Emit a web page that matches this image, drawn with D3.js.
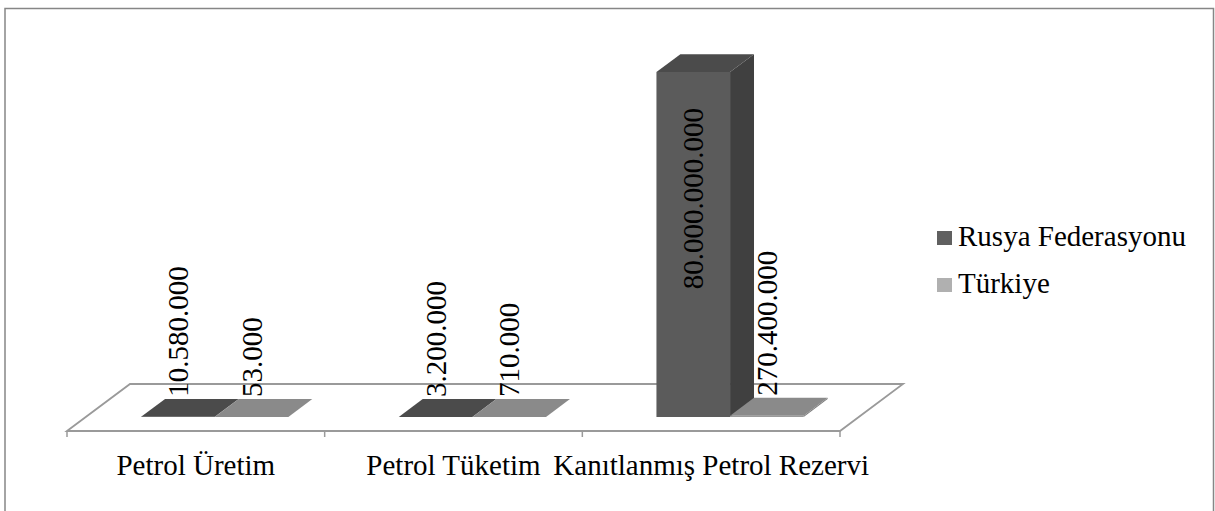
<!DOCTYPE html>
<html>
<head>
<meta charset="utf-8">
<script src="https://cdn.jsdelivr.net/npm/d3@7"></script>
<style>
html,body{margin:0;padding:0;background:#fff;}
svg{display:block;}
text{font-family:"Liberation Serif","Times New Roman",serif;fill:#000;}
</style>
</head>
<body>
<svg id="chart" width="1215" height="511"></svg>
<script>
const categories = ["Petrol Üretim", "Petrol Tüketim", "Kanıtlanmış Petrol Rezervi"];
const seriesNames = ["Rusya Federasyonu", "Türkiye"];
const rusyaValues = [10580000, 3200000, 80000000000];
const turkiyeValues = [53000, 710000, 270400000];
const valueLabelsRusya = ["10.580.000", "3.200.000", "80.000.000.000"];
const valueLabelsTurkiye = ["53.000", "710.000", "270.400.000"];

const series = [
  {name: seriesNames[0], values: rusyaValues, labels: valueLabelsRusya,
   front: "#5b5b5b", top: "#4b4b4b", side: "#404040", legend: "#606060"},
  {name: seriesNames[1], values: turkiyeValues, labels: valueLabelsTurkiye,
   front: "#9a9a9a", top: "#8a8a8a", side: "#7a7a7a", legend: "#b0b0b0"}
];

const svg = d3.select("#chart");
const FONT = 29;

// outer border
svg.append("path")
  .attr("d", "M5,520 L5,8.5 L1213.5,8.5 L1213.5,520")
  .attr("fill", "none").attr("stroke", "#868686").attr("stroke-width", 1.5);

// geometry
const axisY = 431;               // front edge of floor
const depth = [63, -47];         // floor depth vector
const t1 = 0.30, t2 = 0.68;      // bar front/back planes as fraction of depth
const x = d3.scaleBand().domain(categories).range([67, 840]).padding(0);
const catW = x.bandwidth();
const barW = catW / 3.5;
const sub = d3.scaleBand().domain(seriesNames).range([0.75 * barW, 2.75 * barW]).padding(0);

const baseFront = axisY + depth[1] * t1;     // y of bar base at front plane
const y = d3.scaleLinear().domain([0, 90000000000]).range([0, 388]);

// floor
const fx0 = 67, fx1 = 840;
svg.append("path")
  .attr("d", `M${fx0},${axisY} L${fx0 + depth[0]},${axisY + depth[1]} L${fx1 + depth[0]},${axisY + depth[1]} L${fx1},${axisY} Z`)
  .attr("fill", "#fff").attr("stroke", "#9a9a9a").attr("stroke-width", 1.8);

// ticks
const tickXs = categories.map(c => x(c)).concat([x.range()[1]]);
svg.selectAll("line.tick").data(tickXs).enter().append("line")
  .attr("x1", d => d).attr("x2", d => d)
  .attr("y1", axisY).attr("y2", axisY + 6)
  .attr("stroke", "#9a9a9a").attr("stroke-width", 1.5);

// bars
const fdx = depth[0] * t1, fdy = depth[1] * t1;
const bdx = depth[0] * (t2 - t1), bdy = depth[1] * (t2 - t1);
series.forEach(s => {
  categories.forEach((c, i) => {
    const x0 = x(c) + sub(s.name) + fdx;
    const x1 = x0 + sub.bandwidth();
    const yb = baseFront;
    const yt = baseFront - y(s.values[i]);
    const g = svg.append("g");
    // side face
    g.append("path")
      .attr("d", `M${x1},${yb} L${x1 + bdx},${yb + bdy} L${x1 + bdx},${yt + bdy} L${x1},${yt} Z`)
      .attr("fill", s.side);
    // front face
    g.append("path")
      .attr("d", `M${x0},${yb} L${x1},${yb} L${x1},${yt} L${x0},${yt} Z`)
      .attr("fill", s.front);
    // top face
    g.append("path")
      .attr("d", `M${x0},${yt} L${x1},${yt} L${x1 + bdx},${yt + bdy} L${x0 + bdx},${yt + bdy} Z`)
      .attr("fill", s.top);
    // label
    const cx = (x0 + x1) / 2;
    const h = y(s.values[i]);
    const inside = h > 100;
    const ly = inside ? yt + 36 : yt - 20;
    g.append("text")
      .attr("transform", `translate(${cx},${ly}) rotate(-90)`)
      .attr("text-anchor", inside ? "end" : "start")
      .attr("dy", "0.35em")
      .attr("font-size", FONT)
      .text(s.labels[i]);
  });
});

// category labels
svg.selectAll("text.cat").data(categories).enter().append("text")
  .attr("x", d => x(d) + catW / 2)
  .attr("y", 475)
  .attr("text-anchor", "middle")
  .attr("font-size", FONT)
  .text(d => d);

// legend
const leg = svg.append("g");
series.forEach((s, i) => {
  const ly = 246 + i * 47;
  leg.append("rect").attr("x", 937).attr("y", ly - 15).attr("width", 15).attr("height", 14).attr("fill", s.legend);
  leg.append("text").attr("x", 958).attr("y", ly).attr("font-size", FONT).text(s.name);
});
</script>
</body>
</html>
